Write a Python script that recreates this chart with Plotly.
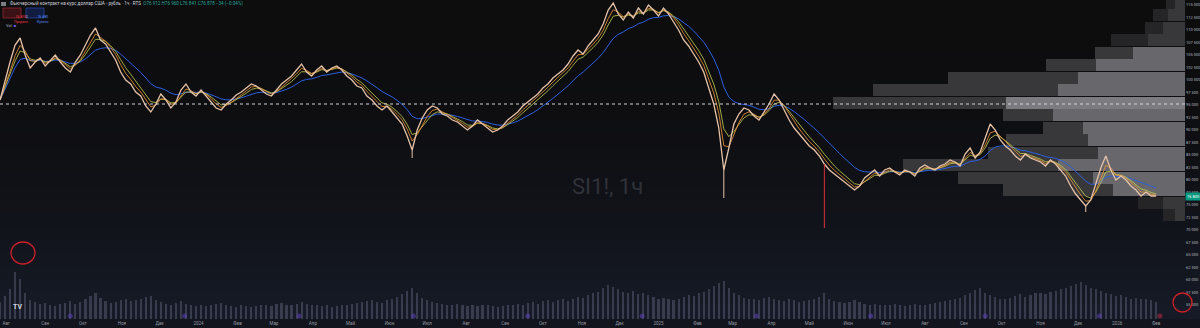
import pandas as pd
import numpy as np
import plotly.graph_objects as go

# ---------------- data ----------------
start_date = "2023-07-27"
step_days = 4

close_prices = [
    96000, 100000, 103600, 107000, 108400, 105000, 102400, 103600, 104400, 102800,
    104000, 105000, 103600, 102400, 101600, 103600, 105000, 107000, 109000, 110400,
    108000, 107200, 105600, 104000, 101600, 100000, 99200, 97600, 96800, 94800,
    93600, 95200, 97200, 96000, 94400, 95600, 98000, 99200, 97600, 96800,
    98000, 96800, 95600, 94400, 94000, 95200, 96000, 97000, 97600, 98400,
    99200, 98800, 98000, 97200, 96800, 98000, 99200, 100000, 100800, 102000,
    103200, 101600, 100800, 102000, 102800, 101600, 102400, 102800, 102000, 100800,
    100000, 98800, 98400, 96800, 96000, 94800, 94000, 94800, 93600, 92400,
    91200, 88800, 86000, 90000, 92400, 94000, 94800, 94400, 93200, 92800,
    92000, 91600, 90800, 90000, 90800, 92000, 91200, 90400, 89600, 90000,
    90800, 92000, 92800, 93600, 94800, 95600, 96400, 97200, 98400, 99200,
    100400, 101200, 102000, 103200, 104800, 106000, 105200, 106800, 108000, 109200,
    111200, 114000, 115400, 113200, 112000, 113600, 112400, 114400, 113200, 115000,
    114000, 112800, 114400, 113200, 111600, 110000, 108000, 106800, 105200, 103600,
    101600, 98400, 95200, 90400, 82000, 86400, 91200, 93200, 94400, 94000,
    92800, 92000, 93600, 95200, 97200, 96000, 94000, 92000, 90400, 89200,
    88000, 86800, 86000, 84800, 83200, 82000, 81200, 80400, 79600, 78800,
    78000, 78800, 80400, 81200, 82000, 80800, 82000, 82400, 81600, 81000,
    82000, 81600, 80800, 82400, 83000, 82400, 82000, 82800, 83200, 84000,
    83600, 82800, 85200, 86400, 84400, 85600, 88400, 91200, 90000, 88000,
    86800, 86000, 84800, 84000, 85200, 84400, 84000, 83600, 82800, 84000,
    83200, 82000, 80800, 78800, 77200, 76000, 74800, 76000, 79200, 82400,
    84800, 82000, 80000, 80800, 80000, 78800, 78000, 76800, 77600, 76800,
    76800,
]

volume_k = [
    40, 55, 70, 110, 95, 60, 45, 40, 35, 38,
    32, 30, 35, 38, 42, 36, 40, 48, 55, 62,
    50, 42, 38, 40, 45, 48, 42, 44, 46, 52,
    55, 44, 40, 36, 34, 38, 42, 36, 32, 30,
    34, 30, 32, 36, 38, 34, 30, 28, 32, 30,
    28, 30, 34, 32, 30, 36, 38, 34, 32, 36,
    40, 36, 32, 34, 30, 32, 28, 30, 34, 32,
    36, 38, 40, 42, 44, 40, 38, 44, 48, 52,
    58, 66, 72, 60, 50, 44, 40, 38, 36, 34,
    32, 36, 34, 30, 32, 30, 34, 32, 30, 28,
    30, 34, 32, 36, 34, 38, 40, 36, 42, 44,
    40, 44, 46, 42, 48, 52, 50, 56, 60, 64,
    72, 80, 76, 70, 64, 60, 66, 58, 62, 56,
    52, 48, 50, 46, 44, 48, 52, 56, 54, 60,
    64, 70, 78, 84, 90, 72, 62, 56, 50, 48,
    46, 44, 50, 52, 48, 44, 42, 46, 44, 40,
    42, 44, 48, 52, 62, 48, 42, 40, 38, 40,
    44, 40, 36, 34, 36, 34, 32, 34, 36, 32,
    30, 34, 36, 34, 32, 36, 38, 40, 42, 44,
    46, 50, 56, 62, 68, 74, 62, 56, 52, 48,
    46, 50, 54, 58, 52, 56, 60, 62, 58, 64,
    66, 70, 74, 78, 82, 86, 80, 74, 70, 66,
    62, 58, 54, 56, 52, 48, 50, 46, 48, 44, 40,
]

wick_dates = ["2024-06-19", "2025-02-22", "2025-05-13", "2025-12-07"]
wick_lows = [84400, 76400, 70400, 73600]

expiry_dates = ["2023-09-21", "2023-12-21", "2024-03-21", "2024-06-20", "2024-09-19",
                "2024-12-19", "2025-03-20", "2025-06-19", "2025-09-18", "2025-12-18"]
event_dates = ["2026-02-04"]

# volume profile (price row centre, total volume, "light" part volume)
profile_price = [115450, 112950, 110450, 107950, 105450, 102950, 100450, 97950, 95450,
                 92950, 90450, 87950, 85450, 82950, 80450, 77950, 75450, 72950]
profile_total = [95, 160, 200, 370, 450, 695, 1185, 1560, 1760,
                 910, 710, 895, 985, 1410, 1135, 910, 235, 110]
profile_light = [50, 85, 110, 185, 260, 445, 535, 635, 895,
                 660, 510, 485, 435, 635, 460, 360, 110, 50]
value_area = [False, False, False, False, True, True, True, True, True,
              True, True, True, True, True, True, True, False, False]
row_height = 2500

level_price = 95200

month_ticks = pd.date_range("2023-08-01", "2026-02-01", freq="MS")
month_labels = ["Авг", "Сен", "Окт", "Ноя", "Дек", "2024", "Фев", "Мар", "Апр", "Май",
                "Июн", "Июл", "Авг", "Сен", "Окт", "Ноя", "Дек", "2025", "Фев", "Мар",
                "Апр", "Май", "Июн", "Июл", "Авг", "Сен", "Окт", "Ноя", "Дек", "2026", "Фев"]
price_ticks = list(range(55000, 116000, 2500))

# ---------------- derived ----------------
dates = pd.date_range(start_date, periods=len(close_prices), freq=f"{step_days}D")
s = pd.Series(close_prices, index=dates, dtype=float)
ma_fast = s.ewm(span=2.5).mean()
ma_mid = s.ewm(span=4).mean()
ma_slow = s.ewm(span=11).mean()

W, H = 1200, 328
ML, MR, MT, MB = 0, 15, 0, 9
PW, PH = W - ML - MR, H - MT - MB

def px(x):
    return x / PW

def py(y):
    return 1 - y / PH

fig = go.Figure()

# volume profile on base axes (drawn beneath the price)
dark_cols = ["#38383b" if va else "#252527" for va in value_area]
light_cols = ["#68686c" if va else "#38383b" for va in value_area]
poc = int(np.argmax(profile_total))
light_cols[poc] = "#7c7c80"
fig.add_trace(go.Bar(x=profile_total, y=profile_price, orientation="h", width=row_height * 0.93,
                     marker=dict(color=dark_cols, line=dict(width=0)), xaxis="x", yaxis="y",
                     hoverinfo="skip"))
fig.add_trace(go.Bar(x=profile_light, y=profile_price, orientation="h", width=row_height * 0.93,
                     marker=dict(color=light_cols, line=dict(width=0)), xaxis="x", yaxis="y",
                     hoverinfo="skip"))

# price + MAs on date axis overlay
fig.add_trace(go.Scatter(x=dates, y=ma_slow.values, mode="lines", line=dict(color="#2c5fe0", width=1),
                         xaxis="x2", yaxis="y"))
fig.add_trace(go.Scatter(x=dates, y=ma_mid.values, mode="lines", line=dict(color="#c8d050", width=0.8),
                         xaxis="x2", yaxis="y"))
fig.add_trace(go.Scatter(x=dates, y=ma_fast.values, mode="lines", line=dict(color="#f59a3a", width=0.8),
                         xaxis="x2", yaxis="y"))
fig.add_trace(go.Scatter(x=dates, y=s.values, mode="lines", line=dict(color="#e6c2a8", width=1.3),
                         xaxis="x2", yaxis="y"))
for d, low in zip(wick_dates, wick_lows):
    t = pd.Timestamp(d)
    c = s.asof(t)
    col = "#d8303c" if low < 72000 else "#e6c2a8"
    fig.add_trace(go.Scatter(x=[t, t], y=[c, low], mode="lines", line=dict(color=col, width=1),
                             xaxis="x2", yaxis="y"))

# volume
fig.add_trace(go.Bar(x=dates, y=volume_k, width=1.7 * 86400000,
                     marker=dict(color="rgba(140,140,165,0.30)", line=dict(width=0)),
                     xaxis="x2", yaxis="y2"))
fig.add_trace(go.Scatter(x=pd.to_datetime(expiry_dates), y=[7] * len(expiry_dates), mode="markers",
                         marker=dict(size=5, color="rgba(95,70,200,0.5)"), xaxis="x2", yaxis="y2"))
fig.add_trace(go.Scatter(x=pd.to_datetime(event_dates), y=[7] * len(event_dates), mode="markers",
                         marker=dict(size=5, color="rgba(190,40,70,0.55)"), xaxis="x2", yaxis="y2"))

# ---------------- background gradient ----------------
shapes = []
top = np.array([13, 13, 14])
bot = np.array([22, 26, 38])
n = 24
for k in range(n):
    f = k / (n - 1)
    w = f ** 1.8
    c = (top + (bot - top) * w).astype(int)
    shapes.append(dict(type="rect", xref="paper", yref="paper", x0=-0.01, x1=1.02,
                       y0=1 - (k + 1) / n - 0.002, y1=1 - k / n + 0.002 if k else 1.05,
                       fillcolor=f"rgb({c[0]},{c[1]},{c[2]})", line=dict(width=0), layer="below"))
shapes.append(dict(type="rect", xref="paper", yref="paper", x0=-0.01, x1=1.02, y0=-0.05, y1=0,
                   fillcolor="#12151e", line=dict(width=0), layer="below"))
# dashed level
shapes.append(dict(type="line", xref="paper", yref="y", x0=0, x1=1, y0=level_price, y1=level_price,
                   line=dict(color="#d1d4dc", width=1, dash="3px,3px")))
# hand-drawn red circles
shapes.append(dict(type="circle", xref="paper", yref="paper", x0=px(11), x1=px(35), y0=py(264), y1=py(242),
                   line=dict(color="#d0202a", width=1.3)))
shapes.append(dict(type="circle", xref="paper", yref="paper", x0=px(1173), x1=px(1192), y0=py(312), y1=py(293),
                   line=dict(color="#d0202a", width=1.3)))
# order buttons
shapes.append(dict(type="rect", xref="paper", yref="paper", x0=px(3), x1=px(21), y0=py(18), y1=py(8),
                   fillcolor="#3a1216", line=dict(color="#b8303a", width=0.6)))
shapes.append(dict(type="rect", xref="paper", yref="paper", x0=px(26), x1=px(44), y0=py(18), y1=py(8),
                   fillcolor="#101c40", line=dict(color="#2f52c8", width=0.6)))
shapes.append(dict(type="rect", xref="paper", yref="paper", x0=px(1), x1=px(6), y0=py(6), y1=py(2),
                   fillcolor="#7a7d86", line=dict(width=0)))

ann = []
ann.append(dict(xref="paper", yref="paper", x=px(8), y=py(4), xanchor="left", yanchor="middle",
                showarrow=False, font=dict(size=4.6, color="#d1d4dc", family="Roboto"),
                text="Фьючерсный контракт на курс доллар США - рубль · 1ч · RTS  "
                     "<span style='color:#26a69a'>O76 912 H76 960 L76 841 C76 878 −34 (−0.04%)</span>"))
ann.append(dict(xref="paper", yref="paper", x=px(12), y=py(13), showarrow=False,
                font=dict(size=3.5, color="#f23645", family="Roboto"), text="76 878<br>Продать"))
ann.append(dict(xref="paper", yref="paper", x=px(23.5), y=py(13), showarrow=False,
                font=dict(size=3.5, color="#b2b5be", family="Roboto"), text="2"))
ann.append(dict(xref="paper", yref="paper", x=px(35), y=py(13), showarrow=False,
                font=dict(size=3.5, color="#5b8cff", family="Roboto"), text="76 880<br>Купить"))
ann.append(dict(xref="paper", yref="paper", x=px(4), y=py(21), xanchor="left", showarrow=False,
                font=dict(size=4, color="#b2b5be", family="Roboto"),
                text="Vol  <span style='color:#7b5cff'>■</span>"))
ann.append(dict(xref="paper", yref="paper", x=px(607), y=py(186), showarrow=False,
                font=dict(size=22, color="rgba(120,123,134,0.33)", family="Roboto"), text="SI1!, 1ч"))
ann.append(dict(xref="paper", yref="paper", x=px(11), y=py(313), showarrow=False,
                font=dict(size=7, color="#d1d4dc", family="Roboto"), text="<b>TV</b>"))
ann.append(dict(xref="paper", yref="y", x=1.0, y=close_prices[-1], xanchor="left", showarrow=False,
                bgcolor="#089981", borderpad=1,
                font=dict(size=4, color="#ffffff", family="Roboto"), text=f"{close_prices[-1]:,}".replace(",", " ")))

fig.update_layout(
    width=W, height=H, margin=dict(l=ML, r=MR, t=MT, b=MB),
    paper_bgcolor="#0e0e10", plot_bgcolor="rgba(0,0,0,0)",
    showlegend=False, barmode="overlay", bargap=0,
    shapes=shapes, annotations=ann,
    xaxis=dict(range=[PW * 5, 0], visible=False, fixedrange=True, domain=[0, 1]),
    xaxis2=dict(overlaying="x", anchor="y", side="bottom",
                range=["2023-07-27", "2026-02-24"],
                tickvals=list(month_ticks), ticktext=month_labels,
                tickfont=dict(size=4.5, color="#9598a1", family="Roboto"),
                showgrid=False, zeroline=False, showline=False, ticks="", ticklen=0),
    yaxis=dict(range=[116000 - 200 * PH, 116000], side="right",
               tickvals=price_ticks, ticktext=[f"{v:,}".replace(",", " ") for v in price_ticks],
               tickfont=dict(size=4, color="#b2b5be", family="Roboto"),
               showgrid=False, zeroline=False, ticks="", ticklen=0),
    yaxis2=dict(overlaying="y", range=[0, 750], visible=False),
)

fig.write_html("out.html")
